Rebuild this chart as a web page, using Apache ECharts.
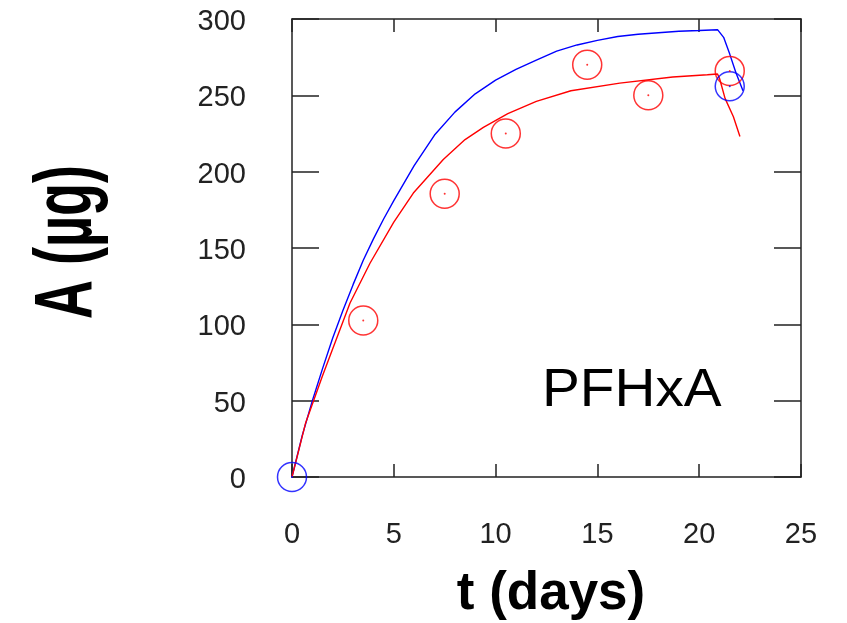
<!DOCTYPE html>
<html>
<head>
<meta charset="utf-8">
<script src="https://cdn.jsdelivr.net/npm/echarts@6/dist/echarts.min.js"></script>
<style>
  html, body { margin: 0; padding: 0; background: #fff; }
  #chart { width: 847px; height: 623px; }
</style>
</head>
<body>
<div id="chart"></div>
<script>
// Axis ranges and tick steps
const xRange = [0, 25];
const xStep = 5;
const yRange = [0, 300];
const yStep = 50;

// Measured amounts A (µg) against time t (days)
const obsRed = [[3.5, 102.5], [7.5, 185.5], [10.5, 225], [14.5, 270], [17.5, 250], [21.5, 266]];
const obsBlue = [[0, 0], [21.5, 256]];

// Model curves
const fitBlue = [
  [0, 0], [0.5, 27], [1, 50], [1.5, 71], [2, 91], [2.5, 109], [3, 126], [3.5, 142],
  [4, 156], [4.5, 169], [5, 181], [6, 204], [7, 224], [8, 239], [9, 251], [10, 260],
  [11, 267], [12, 273], [13, 279], [14, 283], [15, 286], [16, 288.5], [17, 290],
  [18, 291], [19, 292], [20, 292.5], [20.9, 293], [21.2, 288], [21.5, 277], [21.8, 265], [22.15, 253]
];
const fitRed = [
  [0, 0], [0.66, 35], [1.49, 66], [2, 84], [2.85, 114], [3.83, 140], [5, 167], [5.96, 186],
  [7.43, 208], [8.5, 221], [9.4, 229], [10.6, 238], [12, 246], [13.7, 253], [16.1, 258],
  [18.7, 262], [20.4, 263.5], [20.9, 264], [21.0, 261], [21.27, 248], [21.68, 236], [22.0, 223]
];

const compound = 'PFHxA';
const xTitle = 't (days)';
const yTitle = 'A (µg)';

const FONT = '"Liberation Sans", Arial, sans-serif';
const INK = '#222';
const BLUE = '#0000ff';
const RED = '#ff0000';

const chart = echarts.init(document.getElementById('chart'), null, { renderer: 'canvas' });

const frameLine = { show: true, onZero: false, lineStyle: { color: INK, width: 1.5 } };

function xAxisDef(pos, withLabels) {
  return {
    type: 'value', position: pos, min: xRange[0], max: xRange[1], interval: xStep,
    axisLine: frameLine,
    axisTick: { show: true, inside: true, length: 13, lineStyle: { color: INK, width: 1.5 } },
    axisLabel: withLabels
      ? { show: true, margin: 43, color: INK, fontSize: 29, fontFamily: FONT }
      : { show: false },
    splitLine: { show: false }
  };
}
function yAxisDef(pos, withLabels) {
  return {
    type: 'value', position: pos, min: yRange[0], max: yRange[1], interval: yStep,
    axisLine: frameLine,
    axisTick: { show: true, inside: true, length: 27, lineStyle: { color: INK, width: 1.5 } },
    // labels sit a few pixels below their tick
    axisLabel: withLabels
      ? { show: true, margin: 46, color: INK, fontSize: 29, fontFamily: FONT,
          verticalAlign: 'top', lineHeight: 6 }
      : { show: false },
    splitLine: { show: false }
  };
}

const xMain = xAxisDef('bottom', true);
xMain.name = xTitle;
xMain.nameLocation = 'middle';
xMain.nameGap = 91;
xMain.nameTextStyle = {
  color: '#000', fontSize: 53, fontWeight: 'bold', fontFamily: FONT, padding: [0, 0, 0, 9]
};

function lineSeries(data, color) {
  return {
    type: 'line', data: data, xAxisIndex: 0, yAxisIndex: 0,
    showSymbol: false, symbol: 'none', smooth: false,
    lineStyle: { color: color, width: 1.4 }, z: 3, silent: true
  };
}
function ringSeries(data, color) {
  return {
    type: 'scatter', data: data, xAxisIndex: 0, yAxisIndex: 0,
    symbol: 'circle', symbolSize: 29,
    itemStyle: { color: 'rgba(0,0,0,0)', borderColor: color, borderWidth: 1.5 },
    z: 4, silent: true
  };
}
function dotSeries(data, color) {
  return {
    type: 'scatter', data: data, xAxisIndex: 0, yAxisIndex: 0,
    symbol: 'circle', symbolSize: 2,
    itemStyle: { color: color }, z: 5, silent: true
  };
}

chart.setOption({
  animation: false,
  backgroundColor: '#fff',
  grid: {
    left: 292, top: 19, width: 509, height: 458,
    containLabel: false, outerBoundsMode: 'none'
  },
  xAxis: [xMain, xAxisDef('top', false)],
  yAxis: [yAxisDef('left', true), yAxisDef('right', false)],
  series: [
    lineSeries(fitBlue, BLUE),
    lineSeries(fitRed, RED),
    ringSeries(obsRed, RED),
    dotSeries(obsRed, RED),
    ringSeries(obsBlue, BLUE),
    dotSeries(obsBlue, BLUE)
  ],
  graphic: [
    {
      type: 'text', x: 69, y: 242, rotation: Math.PI / 2, scaleX: 1, scaleY: 1.5,
      style: {
        text: yTitle, fill: '#000', font: 'bold 54px ' + FONT,
        align: 'center', verticalAlign: 'middle'
      }
    },
    {
      type: 'text', x: 542, y: 391, scaleX: 1.05, scaleY: 1,
      style: {
        text: compound, fill: '#000', font: '54px ' + FONT,
        align: 'left', verticalAlign: 'middle'
      }
    }
  ]
});
</script>
</body>
</html>
